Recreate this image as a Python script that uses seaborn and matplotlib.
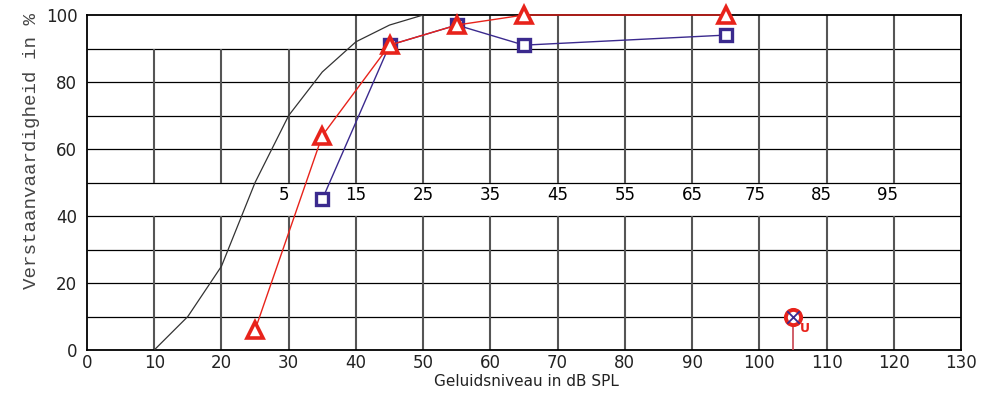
import matplotlib
matplotlib.use("Agg")
import matplotlib.pyplot as plt
import seaborn as sns

# ---- data ----
norm_level = [10, 15, 20, 25, 30, 35, 40, 45, 50]
norm_score = [0, 10, 25, 50, 70, 83, 92, 97, 100]

red_level = [25, 35, 45, 55, 65, 95]
red_score = [6, 64, 91, 97, 100, 100]

blue_level = [35, 45, 55, 65, 95]
blue_score = [45, 91, 97, 91, 94]

u_level = [105]
u_score = [10]

x_ticks = list(range(0, 131, 10))
y_ticks = list(range(0, 101, 20))
hl_labels = ["5", "15", "25", "35", "45", "55", "65", "75", "85", "95"]
hl_positions = [29.3, 40, 50, 60, 70, 80, 90, 99.4, 109.2, 119.1]

RED = "#e8231b"
BLUE = "#3b2a8e"

sns.set_style("white")
plt.rcParams["font.family"] = ["DejaVu Sans"]

fig = plt.figure(figsize=(9.9, 3.96), dpi=100)
ax = fig.add_axes([87 / 990, 46 / 396, 874 / 990, 335 / 396])
ax.set_xlim(0, 130)
ax.set_ylim(0, 100)

# grid (vertical lines interrupted by the label band between 40 and 50)
ax.hlines(list(range(10, 100, 10)), 0, 130, color="black", lw=0.9, zorder=1)
ax.vlines(list(range(10, 130, 10)), 0, 40, color="#555555", lw=1.5, zorder=1)
ax.vlines([10, 20, 30], 50, 90, color="#555555", lw=1.5, zorder=1)
ax.vlines(list(range(40, 130, 10)), 50, 100, color="#555555", lw=1.5, zorder=1)

# secondary scale labels
for lab, pos in zip(hl_labels, hl_positions):
    ax.text(pos, 46.2, lab, ha="center", va="center", fontsize=12,
            color="black", zorder=2)

# normal curve
sns.lineplot(x=norm_level, y=norm_score, ax=ax, color="#333333", lw=0.9,
             sort=False, estimator=None, zorder=3)

# blue series
sns.lineplot(x=blue_level, y=blue_score, ax=ax, color=BLUE, lw=1.0, sort=False,
             estimator=None, marker="s", ms=9, mfc="white", mec=BLUE, mew=2.4,
             zorder=4, clip_on=False)

# red series
sns.lineplot(x=red_level, y=red_score, ax=ax, color=RED, lw=1.0, sort=False,
             estimator=None, marker="^", ms=11, mfc="white", mec=RED, mew=2.6,
             zorder=5, clip_on=False)

# uncomfortable level marker
ax.vlines(u_level, 0, u_score, color="#c8434f", lw=1.2, zorder=5)
sns.scatterplot(x=u_level, y=u_score, ax=ax, marker="o", s=120, facecolor="white",
                edgecolor=RED, linewidth=2.8, zorder=6)
sns.scatterplot(x=u_level, y=u_score, ax=ax, marker="x", s=80, color=BLUE,
                linewidth=1.3, zorder=7)
ax.text(u_level[0] + 1.8, u_score[0] - 3.5, "U", color=RED, fontsize=9,
        fontweight="bold", ha="center", va="center", zorder=7)

# axes styling
ax.set_xticks(x_ticks)
ax.set_yticks(y_ticks)
ax.set_xticklabels([str(v) for v in x_ticks])
ax.set_yticklabels([str(v) for v in y_ticks])
ax.tick_params(axis="both", length=0, labelsize=12, colors="#222222")
ax.tick_params(axis="x", pad=3)
ax.tick_params(axis="y", pad=7)
for sp in ax.spines.values():
    sp.set_visible(True)
    sp.set_color("black")
    sp.set_linewidth(1.3)
ax.set_xlabel("")
ax.set_ylabel("")

fig.text(526 / 990, 1 - 382 / 396, "Geluidsniveau in dB SPL", ha="center",
         va="center", fontsize=11, color="#222222")
fig.text(32 / 990, 1 - 151 / 396, "Verstaanvaardigheid in %", ha="center",
         va="center", rotation=90, fontsize=13.8, color="#444444",
         family=["Liberation Mono", "DejaVu Sans Mono"])

fig.savefig("out.png", dpi=100)
